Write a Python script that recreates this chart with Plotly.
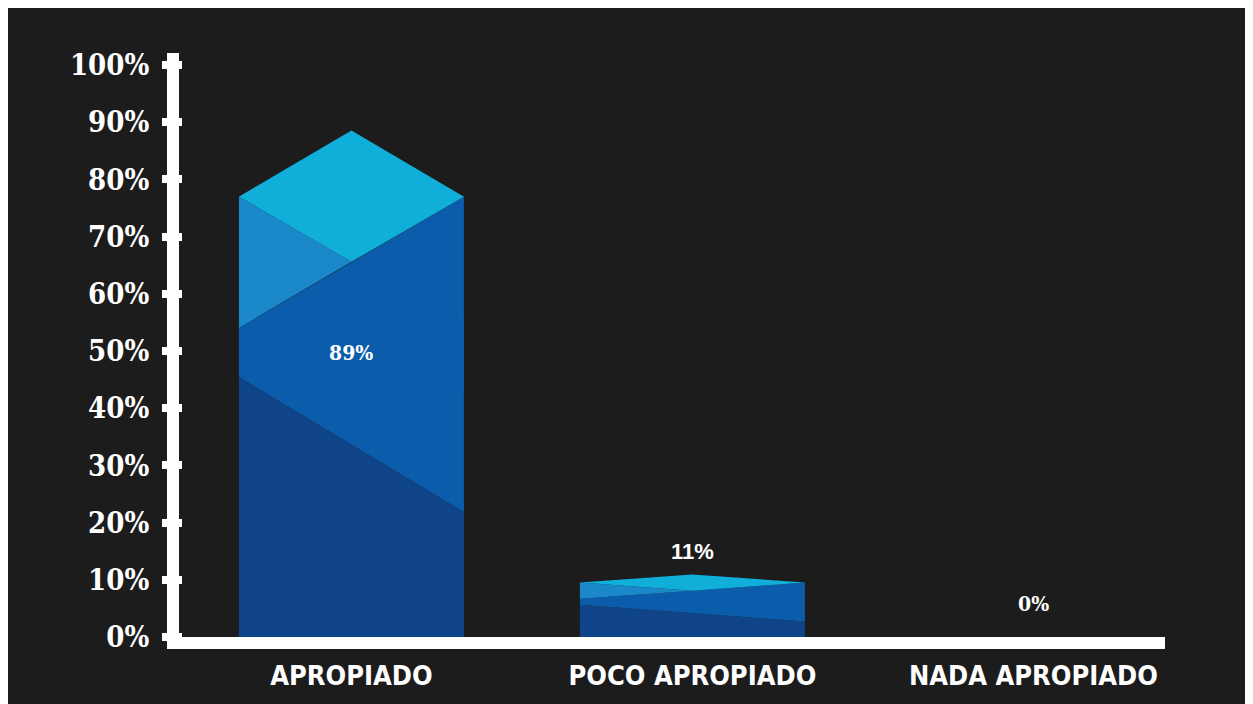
import plotly.graph_objects as go

# ---- data ----
categories = ["APROPIADO", "POCO APROPIADO", "NADA APROPIADO"]
values = [89, 11, 0]
value_labels = ["89%", "11%", "0%"]
tick_values = [0, 10, 20, 30, 40, 50, 60, 70, 80, 90, 100]
tick_labels = ["0%", "10%", "20%", "30%", "40%", "50%", "60%", "70%", "80%", "90%", "100%"]

# ---- style ----
label_y = [49.8, 14.9, 5.8]          # where each value label sits (data units)
SERIF = "DejaVu Serif Condensed, DejaVu Serif, serif"
SANS = "Liberation Sans, Arial, sans-serif"
label_fonts = [SERIF, SANS, SERIF]
label_sizes = [21, 22, 21]
HALF = 0.33                           # half bar width (category units)
C_TOP = "#0fafd9"
C_LEFT = "#1a88c9"
C_MID = "#0b5dab"
C_DARK = "#104488"
BG = "#1c1c1c"
# facet geometry as fractions of the bar value
F_CORNER, F_RHB, F_LTB, F_DL, F_DR, F_APEX = 0.865, 0.737, 0.607, 0.511, 0.2455, 0.995

fig = go.Figure()


def poly(xs, ys, color):
    fig.add_trace(go.Scatter(
        x=xs + [xs[0]], y=ys + [ys[0]], mode="lines", fill="toself",
        fillcolor=color, line=dict(width=0, color=color),
        hoverinfo="skip", showlegend=False))


for i, v in enumerate(values):
    if v <= 0:
        continue
    l, c, r = i - HALF, i, i + HALF
    poly([l, r, r, l], [0, 0, F_DR * v, F_DL * v], C_DARK)
    poly([l, r, r, l], [F_DL * v, F_DR * v, F_CORNER * v, F_LTB * v], C_MID)
    poly([l, c, l], [F_LTB * v, F_RHB * v, F_CORNER * v], C_LEFT)
    poly([l, c, r, c], [F_CORNER * v, F_APEX * v, F_CORNER * v, F_RHB * v], C_TOP)

for i, (t, yv, fam, sz) in enumerate(zip(value_labels, label_y, label_fonts, label_sizes)):
    fig.add_annotation(x=i, y=yv, text=f"<b>{t}</b>", showarrow=False,
                       font=dict(family=fam, size=sz, color="white"),
                       xref="x", yref="y")

# pixel layout (figure coordinates)
FW, FH = 1253, 704
L, R, T, B = 175, 1157, 45, 629
W, H = R - L, B - T


def px(x):
    return (x - L) / W


def py(y):
    return (B - y) / H


shapes = [
    # y-axis line
    dict(type="rect", xref="paper", yref="paper", x0=px(159), x1=px(171), y0=py(641), y1=1.0,
         fillcolor="white", line=dict(width=0), layer="above"),
    # x-axis line
    dict(type="rect", xref="paper", yref="paper", x0=px(159), x1=1.0, y0=py(641), y1=0,
         fillcolor="white", line=dict(width=0), layer="above"),
]

fig.update_layout(
    width=FW, height=FH,
    margin=dict(l=L, r=FW - R, t=T, b=FH - B),
    paper_bgcolor=BG, plot_bgcolor="rgba(0,0,0,0)",
    shapes=shapes, showlegend=False,
    xaxis=dict(range=[-0.494, 2.386], tickvals=[0, 1, 2], ticktext=categories,
               showgrid=False, zeroline=False, showline=False, ticks="",
               ticklabelstandoff=20,
               tickfont=dict(family="DejaVu Sans Condensed, sans-serif",
                             size=27, color="white", weight="bold"),
               fixedrange=True),
    yaxis=dict(range=[0, 102.1], tickvals=tick_values, ticktext=tick_labels,
               showgrid=False, zeroline=False, showline=False,
               ticks="outside", ticklen=20, tickwidth=8, tickcolor="white",
               ticklabelstandoff=7,
               tickfont=dict(family=SERIF, size=29, color="white", weight="bold"),
               fixedrange=True),
)

fig.write_html(
    "out.html",
    post_script="document.documentElement.style.overflow='hidden';document.body.style.overflow='hidden';",
)
